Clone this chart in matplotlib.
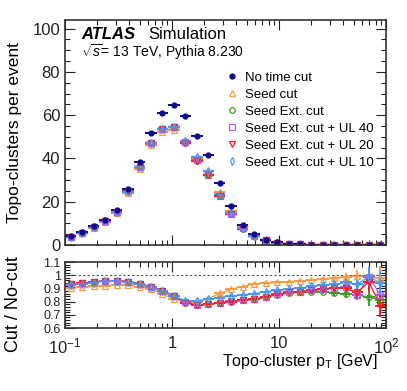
import matplotlib
matplotlib.use("Agg")
import matplotlib.pyplot as plt
import numpy as np
from matplotlib.lines import Line2D
from matplotlib.ticker import MultipleLocator, LogLocator, NullFormatter, FixedLocator, FixedFormatter

plt.rcParams['font.family'] = ['Liberation Sans', 'DejaVu Sans']
plt.rcParams['mathtext.fontset'] = 'custom'
plt.rcParams['mathtext.rm'] = 'Liberation Sans'
plt.rcParams['mathtext.it'] = 'Liberation Sans:italic'

# 28 log bins from 0.1 to 100 GeV
bin_edges = np.logspace(-1, 2, 29)

# topo-clusters per event, no time cut
no_cut = [4.0, 5.9, 8.6, 11.7, 16.0, 26.0, 38.5, 51.6, 60.9, 64.9, 59.7, 50.5, 41.5, 28.6,
          17.8, 9.4, 5.1, 2.5, 1.3, 0.6, 0.3, 0.15, 0.08, 0.04, 0.02, 0.01, 0.005, 0.003]

# ratios cut / no-cut
r_seed = [0.902, 0.910, 0.915, 0.921, 0.925, 0.925, 0.910, 0.897, 0.857, 0.820, 0.800, 0.800,
          0.823, 0.862, 0.894, 0.914, 0.934, 0.940, 0.945, 0.950, 0.955, 0.965, 0.970, 0.978,
          0.990, 0.997, 0.995, 0.978]
r_ext = [0.932, 0.940, 0.947, 0.959, 0.959, 0.952, 0.934, 0.914, 0.884, 0.842, 0.792, 0.772,
         0.779, 0.790, 0.800, 0.810, 0.817, 0.835, 0.850, 0.865, 0.870, 0.875, 0.875, 0.865,
         0.860, 0.850, 0.835, 0.815]
r_ul40 = [0.932, 0.940, 0.947, 0.959, 0.959, 0.952, 0.934, 0.914, 0.884, 0.842, 0.795, 0.775,
          0.781, 0.792, 0.802, 0.812, 0.819, 0.837, 0.855, 0.870, 0.876, 0.886, 0.895, 0.900,
          0.910, 0.850, 0.990, 0.850]
r_ul20 = [0.932, 0.940, 0.947, 0.959, 0.959, 0.952, 0.934, 0.914, 0.884, 0.842, 0.792, 0.772,
          0.779, 0.790, 0.800, 0.810, 0.817, 0.835, 0.855, 0.870, 0.875, 0.885, 0.895, 0.905,
          0.900, 0.870, 0.950, 0.770]
r_ul10 = [0.929, 0.937, 0.944, 0.956, 0.956, 0.949, 0.931, 0.911, 0.882, 0.839, 0.808, 0.806,
          0.819, 0.831, 0.844, 0.851, 0.859, 0.876, 0.885, 0.895, 0.905, 0.915, 0.925, 0.930,
          0.945, 0.930, 0.990, 0.940]
r_err = [0, 0, 0, 0, 0, 0, 0, 0, 0, 0, 0, 0, 0, 0, 0, 0, 0, 0, 0.003,
         0.005, 0.007, 0.01, 0.015, 0.02, 0.03, 0.04, 0.07, 0.09]

series = [
    ("Seed cut", r_seed, "#ff9a3c", "^"),
    ("Seed Ext. cut", r_ext, "#3f9b1f", "o"),
    ("Seed Ext. cut + UL 40", r_ul40, "#b25cf5", "s"),
    ("Seed Ext. cut + UL 20", r_ul20, "#ff1a1a", "v"),
    ("Seed Ext. cut + UL 10", r_ul10, "#3d9bff", "d"),
]
navy = "#0b0b8c"

centers = np.sqrt(bin_edges[:-1] * bin_edges[1:])
xlo = centers - bin_edges[:-1]
xhi = bin_edges[1:] - centers
nc = np.array(no_cut)

fig = plt.figure(figsize=(4.07, 3.91), dpi=100)
ax = fig.add_axes([0.1597, 0.3734, 0.7887, 0.5754])
rax = fig.add_axes([0.1597, 0.1611, 0.7887, 0.1688])

for label, r, col, m in series:
    vals = nc * np.array(r)
    ax.errorbar(centers, vals, xerr=[xlo, xhi], fmt=m, ms=4, mfc="none", mec=col,
                mew=0.9, ecolor=col, elinewidth=1.6, capsize=0, label=label)
    rax.plot(centers, r, "-", color=col, lw=0.9)
    rax.errorbar(centers, r, xerr=[xlo, xhi], yerr=r_err, fmt=m, ms=4, mfc="none",
                 mec=col, mew=0.9, ecolor=col, elinewidth=1.4, capsize=0)
ax.errorbar(centers, nc, xerr=[xlo, xhi], fmt="o", ms=3.5, color=navy, mec=navy,
            ecolor=navy, elinewidth=1.4, capsize=0, label="No time cut")

rax.axhline(1.0, color="#555555", ls=(0, (2, 2)), lw=0.8)

for a in (ax, rax):
    a.set_xscale("log")
    a.set_xlim(0.1, 100)
    a.tick_params(which="both", direction="in", top=True, right=True, colors="#222222")
    a.tick_params(which="major", length=7, width=0.8)
    a.tick_params(which="minor", length=3.5, width=0.8)
    a.xaxis.set_minor_locator(LogLocator(base=10, subs=np.arange(2, 10)))
    a.xaxis.set_minor_formatter(NullFormatter())
    for s in a.spines.values():
        s.set_linewidth(1.2)
        s.set_color("#333333")

ax.set_ylim(0, 104)
ax.yaxis.set_major_locator(MultipleLocator(20))
ax.yaxis.set_minor_locator(MultipleLocator(5))
ax.tick_params(axis="x", labelbottom=False)
ax.tick_params(axis="y", labelsize=12)
ax.set_ylabel("Topo-clusters per event", fontsize=12.5)
ax.yaxis.set_label_coords(-0.134, 0.5)

rax.set_ylim(0.6, 1.1)
rax.yaxis.set_major_locator(FixedLocator([0.6, 0.7, 0.8, 0.9, 1.0, 1.1]))
rax.yaxis.set_major_formatter(FixedFormatter(["0.6", "0.7", "0.8", "0.9", "1", "1.1"]))
rax.yaxis.set_minor_locator(MultipleLocator(0.02))
rax.tick_params(axis="y", labelsize=9, pad=3)
rax.xaxis.set_major_locator(FixedLocator([0.1, 1, 10, 100]))
rax.xaxis.set_major_formatter(FixedFormatter([r"$10^{-1}$", "1", "10", r"$10^{2}$"]))
rax.tick_params(axis="x", labelsize=12, pad=6)
rax.set_ylabel("Cut / No-cut", fontsize=13)
rax.yaxis.set_label_coords(-0.134, 0.36)
rax.set_xlabel(r"Topo-cluster p$_{\rm T}$ [GeV]", fontsize=11.5, loc="right")
rax.xaxis.set_label_coords(0.975, -0.37)

ax.text(0.05, 0.915, "ATLAS", transform=ax.transAxes, fontsize=12, fontweight="bold",
        fontstyle="italic")
ax.text(0.26, 0.915, "Simulation", transform=ax.transAxes, fontsize=12)
ax.text(0.05, 0.835, r"$\sqrt{s}$= 13 TeV, Pythia 8.230", transform=ax.transAxes, fontsize=10)

h_nav = Line2D([], [], ls="none", marker="o", ms=3.5, color=navy)
handles = [h_nav] + [Line2D([], [], ls="none", marker=m, ms=4, mfc="none", mec=c, mew=0.9)
                     for _, _, c, m in series]
labels = ["No time cut"] + [s[0] for s in series]
ax.legend(handles, labels, loc="upper left", bbox_to_anchor=(0.5, 0.77), frameon=False,
          fontsize=9.5, handlelength=1.0, handletextpad=0.45, labelspacing=0.36,
          borderaxespad=0, borderpad=0)

fig.savefig("out.png", dpi=100)
